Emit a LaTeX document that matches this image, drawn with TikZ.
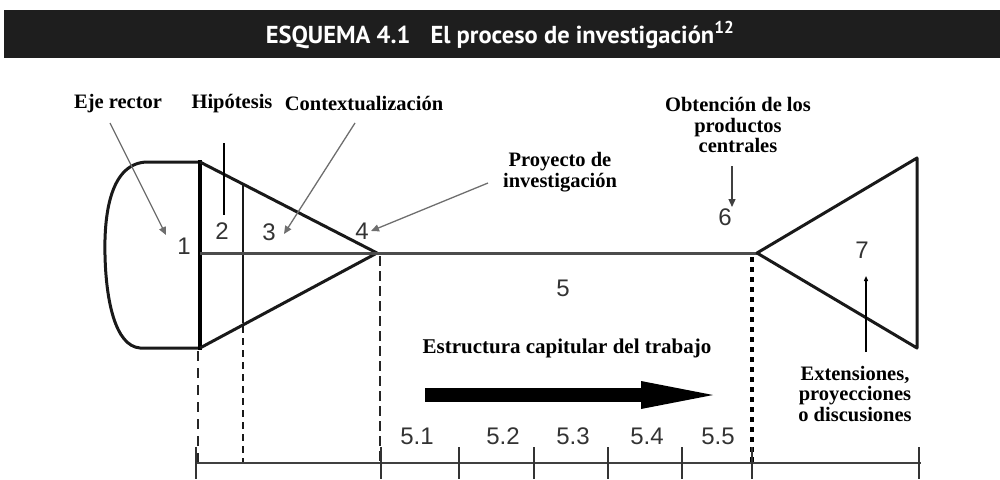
\documentclass[tikz,border=0pt]{standalone}
\usepackage{fontspec}
\setmainfont{Liberation Serif}
\setsansfont{Liberation Sans}
\newfontfamily\titlefont{PT Sans}
\usetikzlibrary{arrows.meta}
\definecolor{barcol}{HTML}{1E1E1E}
\definecolor{arrgray}{HTML}{6E6E6E}
\tikzset{
  lbl/.style={font=\fontsize{20.5}{20.5}\selectfont\bfseries, align=center, inner sep=0pt},
  num/.style={font=\fontsize{24}{26}\sffamily, text=black!80, inner sep=0pt},
  outline/.style={line width=3pt, black!90, line join=round},
  pointer/.style={line width=1.3pt, arrgray, -{Triangle[length=8pt,width=7pt]}},
  axis/.style={line width=2.8pt, black!75},
  tick/.style={line width=2.2pt, black!80},
}
\begin{document}
\begin{tikzpicture}[x=1pt,y=-1pt]
\useasboundingbox (0,0) rectangle (1000,479);
% title bar
\fill[barcol] (4,10) rectangle (1000,58);
\node[text=white, inner sep=0pt, font=\titlefont\fontsize{24.5}{25}\selectfont\bfseries] (title) at (500,35)
  {ESQUEMA 4.1\hspace{20pt}El proceso de investigación\textsuperscript{12}};

% head
\draw[outline] (200,162) -- (148,162) .. controls (110,162) and (104,215) .. (105,255)
  .. controls (106,300) and (115,346) .. (140,348) -- (200,348);
\draw[line width=4.8pt, black] (200,160) -- (200,350);
% left triangle
\draw[outline] (200,162) -- (377,253) -- (200,348);
\draw[line width=2.8pt, black!90] (243,184) -- (243,323);
% center line
\draw[line width=3pt, black!70] (200,253) -- (757,253);
% right triangle
\draw[outline] (757,253) -- (917,158) -- (917,348) -- cycle;

% dashed verticals
\draw[line width=2pt, black!85, dash pattern=on 10pt off 7pt] (198,351) -- (198,463);
\draw[line width=2.4pt, black!90, dash pattern=on 7pt off 5pt] (243,326) -- (243,463);
\draw[line width=1.6pt, black!85, dash pattern=on 10pt off 5pt] (380,256) -- (380,463);
\draw[line width=3.6pt, black, dash pattern=on 5pt off 5pt] (752,257) -- (752,463);

% axis
\draw[axis] (196,463) -- (921,463);
\foreach \x in {196,381,459,534,608,682,752,919}
  \draw[tick] (\x,447) -- (\x,479);

% numbers
\node[num] (n1) at (184,246) {1};
\node[num] (n2) at (222,231) {2};
\node[num] (n3) at (269,232) {3};
\node[num] (n4) at (362,231) {4};
\node[num] (n5) at (563,288) {5};
\node[num] (n6) at (725,217) {6};
\node[num] (n7) at (862,250) {7};
\node[num] (s1) at (417,436) {5.1};
\node[num] (s2) at (503,436) {5.2};
\node[num] (s3) at (573,436) {5.3};
\node[num] (s4) at (647,436) {5.4};
\node[num] (s5) at (718,436) {5.5};

% labels
\node[lbl] (eje) at (118,104) {Eje rector};
\node[lbl] (hip) at (232,104) {Hipótesis};
\node[lbl] (con) at (364,104) {Contextualización};
\node[lbl] (pro) at (560,172) {Proyecto de\\investigación};
\node[lbl] (obt) at (738,125) {Obtención de los\\productos\\centrales};
\node[lbl] (ext) at (855,394) {Extensiones,\\proyecciones\\o discusiones};
\node[lbl, font=\fontsize{21}{21}\selectfont\bfseries] (est) at (567,348) {Estructura capitular del trabajo};

% pointers
\coordinate (ejeS) at (110,123);
\coordinate (ejeE) at (166,235);
\draw[pointer] (ejeS) -- (ejeE);
\coordinate (hipS) at (224,143);
\coordinate (hipE) at (224,215);
\draw[line width=1.8pt, black] (hipS) -- (hipE);
\coordinate (conS) at (355,123);
\coordinate (conE) at (284,234);
\draw[pointer] (conS) -- (conE);
\coordinate (proS) at (488,183);
\coordinate (proE) at (371,231);
\draw[pointer] (proS) -- (proE);
\coordinate (obtS) at (732,166);
\coordinate (obtE) at (732,207);
\draw[pointer, black!75] (obtS) -- (obtE);
\coordinate (extS) at (866,352);
\coordinate (extE) at (866,276);
\draw[line width=1.8pt, black, -{Triangle[length=5pt,width=4pt]}] (extS) -- (extE);

% big arrow
\coordinate (bigS) at (425,395);
\coordinate (bigE) at (713,395);
\draw[line width=14pt, black, -{Triangle[length=72pt,width=28pt,line width=0pt]}] (bigS) -- (bigE);
\end{tikzpicture}
\end{document}
